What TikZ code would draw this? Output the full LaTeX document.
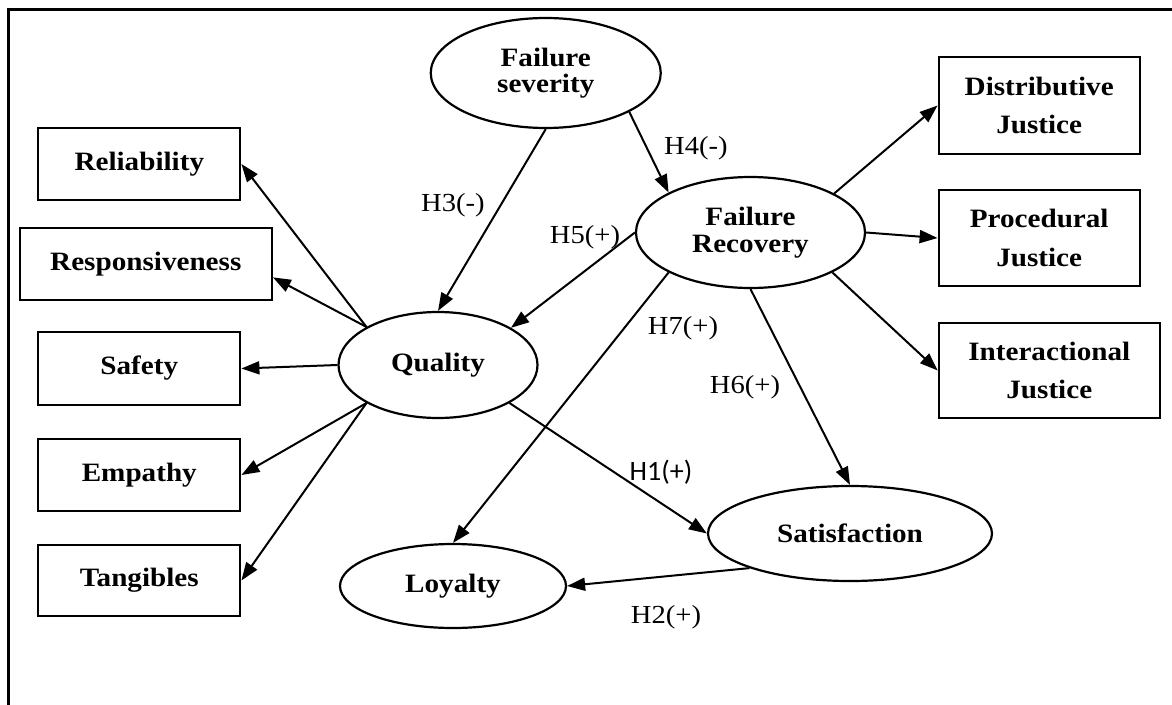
\documentclass[tikz,border=0pt]{standalone}
\usepackage{fontspec}
\setmainfont{Liberation Serif}[FakeStretch=1.1]
\newfontfamily\calfont{Carlito}
\usetikzlibrary{shapes.geometric,arrows.meta}
\begin{document}
\begin{tikzpicture}[x=1pt,y=-1pt,
  lat/.style={ellipse,draw,line width=2.2pt,inner sep=0pt,font=\fontsize{26.5}{26.5}\selectfont\bfseries,align=center},
  ind/.style={rectangle,draw,line width=2.2pt,inner sep=0pt,font=\fontsize{26.5}{38.5}\selectfont\bfseries,align=center},
  arr/.style={line width=2pt,-{Triangle[length=18pt,width=13pt]}},
  hyp/.style={font=\fontsize{26}{26}\selectfont,inner sep=0pt}]
\useasboundingbox (0,0) rectangle (1172,704);
\fill[white] (0,0) rectangle (1172,704);
\begin{scope}
  \clip (0,0) rectangle (1172,704);
  \draw[line width=3.5pt] (8.5,9.5) rectangle (1190,720);
\end{scope}
% latent constructs
\node[lat,minimum width=230pt,minimum height=110pt] (fs) at (545.75,73) {Failure\\severity};
\node[lat,minimum width=229pt,minimum height=111pt] (fr) at (750.5,232.5) {Failure\\Recovery};
\node[lat,minimum width=199pt,minimum height=106pt] (q) at (438,365) {Quality};
\node[lat,minimum width=226pt,minimum height=84pt] (loy) at (453,586) {Loyalty};
\node[lat,minimum width=284pt,minimum height=95pt] (sat) at (850,533.5) {Satisfaction};
% indicators
\node[ind,minimum width=202pt,minimum height=72pt] (rel) at (139.3,164) {Reliability};
\node[ind,minimum width=252pt,minimum height=72pt] (resp) at (145.8,264) {Responsiveness};
\node[ind,minimum width=202pt,minimum height=73pt] (saf) at (139.3,368.5) {Safety};
\node[ind,minimum width=202pt,minimum height=72pt] (emp) at (139.3,475) {Empathy};
\node[ind,minimum width=202pt,minimum height=71pt] (tan) at (139.3,580.5) {Tangibles};
\node[ind,minimum width=201pt,minimum height=97pt] (dj) at (1039.2,105.5) {Distributive\\Justice};
\node[ind,minimum width=201pt,minimum height=96pt] (pj) at (1039.2,238) {Procedural\\Justice};
\node[ind,minimum width=221pt,minimum height=95pt] (ij) at (1049.3,370.5) {Interactional\\Justice};
% connectors
\draw[arr] (q.152.5) -- (rel.east);
\draw[arr] (q.152.5) -- (resp.-6);
\draw[arr] (q.west) -- (saf.east);
\draw[arr] (q.208.2) -- (emp.east);
\draw[arr] (q.208.2) -- (tan.east);
\draw[arr] (fs.south) -- (q.north);
\draw[arr] (fs.-25.7) -- (fr.154);
\draw[arr] (fr.west) -- (q.27.5);
\draw[arr] (fr.25.9) -- (dj.west);
\draw[arr] (fr.east) -- (pj.west);
\draw[arr] (fr.-26.4) -- (ij.west);
\draw[arr] (fr.206) -- (loy.north);
\draw[arr] (fr.south) -- (sat.north);
\draw[arr] (q.-28.2) -- (sat.west);
\draw[arr] (sat.199) -- (loy.east);
% hypothesis labels
\node[hyp] (h3) at (453,205) {H3(-)};
\node[hyp] (h5) at (585,237) {H5(+)};
\node[hyp] (h4) at (696,148) {H4(-)};
\node[hyp] (h7) at (683,328) {H7(+)};
\node[hyp] (h6) at (745,387) {H6(+)};
\node[hyp,font=\calfont\fontsize{28}{28}\selectfont] (h1) at (661,472) {H1(+)};
\node[hyp] (h2) at (666,617) {H2(+)};
\end{tikzpicture}
\end{document}
